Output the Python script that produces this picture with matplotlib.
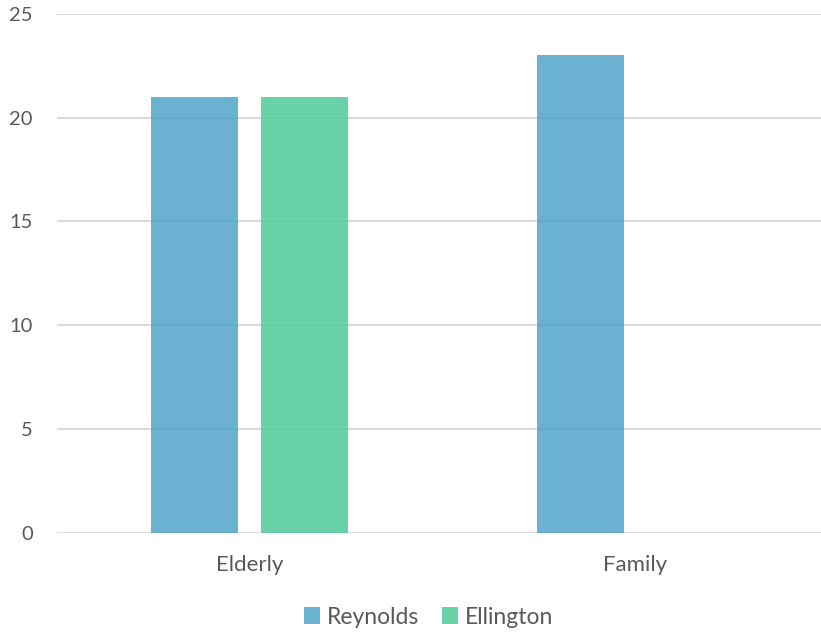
import numpy as np
import matplotlib.pyplot as plt

# Data
categories = ["Elderly", "Family"]
reynolds = [21, 23]
ellington = [21, np.nan]
y_ticks = [0, 5, 10, 15, 20, 25]

plt.rcParams['font.family'] = ['Lato', 'DejaVu Sans']

fig = plt.figure(figsize=(8.21, 6.32), dpi=100)
ax = fig.add_axes([56.5 / 821, (632 - 532.5) / 632, 772 / 821, 518.5 / 632])

x = np.arange(len(categories))
width = 0.2254
offset = 0.1425

ax.bar(x - offset, reynolds, width, color="#50a4ca", alpha=0.85, label="Reynolds", zorder=2)
ax.bar(x + offset, ellington, width, color="#50cb99", alpha=0.85, label="Ellington", zorder=2)

ax.set_xlim(-0.5, 1.5)
ax.set_ylim(0, 25)
ax.set_yticks(y_ticks)
ax.set_xticks(x)
ax.set_xticklabels(categories)

ax.grid(axis="y", color="#d9d9d9", linewidth=1.5, zorder=0)
ax.set_axisbelow(True)
for s in ax.spines.values():
    s.set_visible(False)
ax.tick_params(axis="y", length=0, labelsize=14.5, labelcolor="#595959", pad=17)
ax.tick_params(axis="x", length=0, labelsize=16, labelcolor="#595959", pad=16)

fig.legend(loc="center", bbox_to_anchor=(429 / 821, 1 - 617 / 632), ncol=2, frameon=False,
           fontsize=16.5, labelcolor="#595959", handlelength=0.7, handleheight=0.7,
           handletextpad=0.3, columnspacing=1.0)

fig.savefig("out.png", dpi=100)
